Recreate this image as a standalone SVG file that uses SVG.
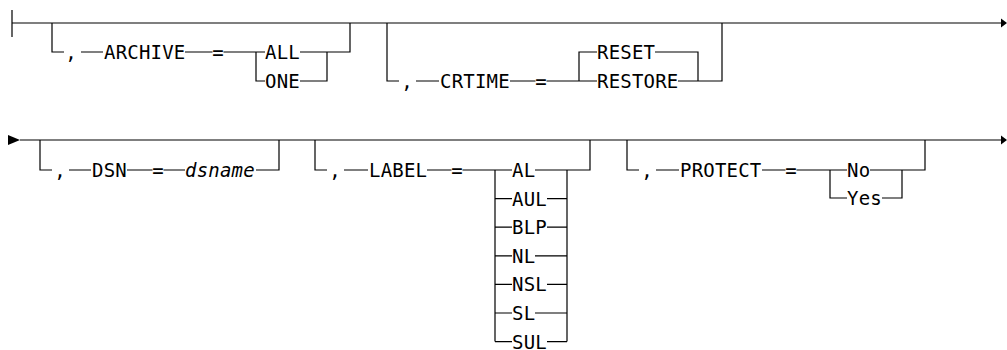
<svg xmlns="http://www.w3.org/2000/svg" width="1007" height="350" viewBox="0 0 1007 350">
<style>
.t{font-family:"DejaVu Sans Mono","Liberation Mono",monospace;font-size:19px;letter-spacing:0.2px;fill:#000}
.i{font-style:italic}
.m{text-anchor:middle;letter-spacing:0}
.c{stroke:#000;stroke-width:1.2;fill:none}
.a{fill:#000;stroke:none}
</style>
<rect width="1007" height="350" fill="#fff"/>
<g id="connectors">
<path class="c" d="M12 10V37M12 23H1002"/>
<polygon class="a" points="1001,18.5 1007,23 1001,27.5"/>
<path class="c" d="M52 23V52H64M81 52H103M185 52H212.5M223.5 52H265M256 52V81H265M300 52H350V23M300 81H327V52"/>
<path class="c" d="M387 23V81H399M416 81H439M510 81H535.5M546.5 81H597M579 81V52H597M655 52H698V81M678 81H722V23"/>
<polygon class="a" points="8,135 20,140 8,145"/>
<path class="c" d="M20 140H1002"/>
<polygon class="a" points="1001,135.5 1007,140 1001,144.5"/>
<path class="c" d="M40 140V170H52M69 170H91M127 170H152.5M163.5 170H185M256 170H279V140"/>
<path class="c" d="M315 140V170H327M344 170H368M427 170H451.5M462.5 170H512M495 170V341.6M567 170V341.6M567 170H590V140"/>
<path class="c" d="M495 198.6H512M495 227.2H512M495 255.8H512M495 284.4H512M495 313H512M495 341.6H512"/>
<path class="c" d="M535 170H567M547 198.6H567M547 227.2H567M535 255.8H567M547 284.4H567M535 313H567M547 341.6H567"/>
<path class="c" d="M627 140V170H639M656 170H679M762 170H785.5M796.5 170H847M830 170V198H847M870 170H925V140M882 198H902V170"/>
</g>
<g id="archive">
<text class="t m" x="71" y="59">,</text>
<text class="t" x="104" y="59">ARCHIVE</text>
<text class="t m" x="218" y="59">=</text>
<text class="t" x="265" y="59">ALL</text>
<text class="t" x="265" y="88">ONE</text>
</g>
<g id="crtime">
<text class="t m" x="407" y="88">,</text>
<text class="t" x="440" y="88">CRTIME</text>
<text class="t m" x="541" y="88">=</text>
<text class="t" x="597" y="59">RESET</text>
<text class="t" x="597" y="88">RESTORE</text>
</g>
<g id="dsn">
<text class="t m" x="60" y="177">,</text>
<text class="t" x="92" y="177">DSN</text>
<text class="t m" x="158" y="177">=</text>
<text class="t i" x="185" y="177">dsname</text>
</g>
<g id="label">
<text class="t m" x="335" y="177">,</text>
<text class="t" x="369" y="177">LABEL</text>
<text class="t m" x="457" y="177">=</text>
<text class="t" x="512" y="177">AL</text>
<text class="t" x="512" y="205.6">AUL</text>
<text class="t" x="512" y="234.2">BLP</text>
<text class="t" x="512" y="262.8">NL</text>
<text class="t" x="512" y="291.4">NSL</text>
<text class="t" x="512" y="320">SL</text>
<text class="t" x="512" y="348.6">SUL</text>
</g>
<g id="protect">
<text class="t m" x="647" y="177">,</text>
<text class="t" x="680" y="177">PROTECT</text>
<text class="t m" x="791" y="177">=</text>
<text class="t" x="847" y="177">No</text>
<text class="t" x="847" y="205">Yes</text>
</g>
</svg>
